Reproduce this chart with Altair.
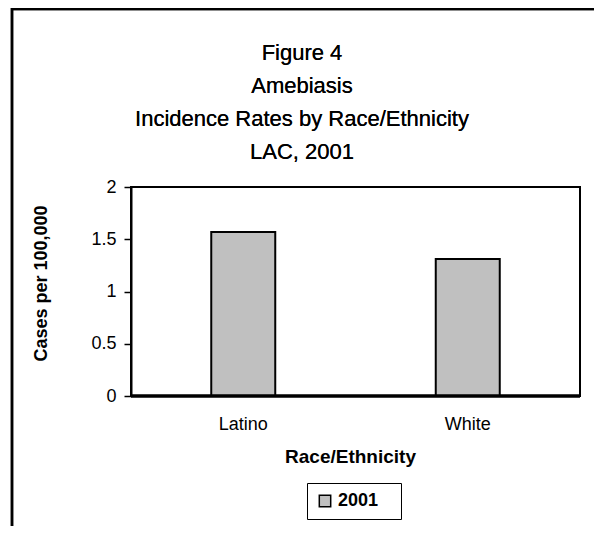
import altair as alt
import pandas as pd

categories = ["Latino", "White"]
rates = [1.57, 1.31]
series = ["2001", "2001"]
title_lines = ["Figure 4", "Amebiasis", "Incidence Rates by Race/Ethnicity", "LAC, 2001"]

df = pd.DataFrame({"race": categories, "rate": rates, "year": series})

FONT = "Liberation Sans"

bars = alt.Chart(df).mark_bar(
    width=64, stroke="black", strokeWidth=2
).encode(
    x=alt.X("race:N", sort=categories,
            scale=alt.Scale(paddingInner=0, paddingOuter=0),
            axis=alt.Axis(title="Race/Ethnicity", labelAngle=0, ticks=False,
                          domain=False, labelPadding=19, titlePadding=14,
                          titleX=219,
                          labelFontSize=18, titleFontSize=19, titleFontWeight="bold",
                          labelColor="black", titleColor="black",
                          labelFont=FONT, titleFont=FONT)),
    y=alt.Y("rate:Q", scale=alt.Scale(domain=[0, 2], nice=False),
            axis=alt.Axis(title="Cases per 100,000", values=[0, 0.5, 1, 1.5, 2],
                          format=".1~f", grid=False, tickSize=7, tickColor="black",
                          tickWidth=1.5, domainColor="black", domainWidth=2,
                          labelPadding=8, labelFontSize=18, titleFontSize=18,
                          titleFontWeight="bold", titlePadding=40, titleY=96,
                          labelColor="black", titleColor="black",
                          labelFont=FONT, titleFont=FONT)),
    color=alt.Color("year:N", scale=alt.Scale(range=["#c0c0c0"]),
                    legend=alt.Legend(title=None, orient="none", legendX=176, legendY=296,
                                      symbolType="square", symbolSize=130,
                                      symbolStrokeColor="black", symbolStrokeWidth=1.5,
                                      symbolFillColor="#c0c0c0",
                                      labelFontSize=18, labelFontWeight="bold", labelFont=FONT,
                                      labelColor="black",
                                      labelExpr="datum.label + '\u2800'",
                                      strokeColor="black", padding=9,
                                      fillColor="white")),
)

baseline = alt.Chart(df).mark_rule(color="black", strokeWidth=3).encode(
    x=alt.value(0), x2=alt.value(449), y=alt.value(209)
)

border_left = alt.Chart(df).mark_rule(color="black", strokeWidth=2.5).encode(
    x=alt.value(-119), y=alt.value(-179), y2=alt.value(360)
)
border_top = alt.Chart(df).mark_rule(color="black", strokeWidth=2.5).encode(
    x=alt.value(-120), x2=alt.value(480), y=alt.value(-178)
)

title = alt.Chart(df).mark_text(
    text=title_lines, fontSize=22, font=FONT, color="black",
    lineHeight=33, align="center", baseline="alphabetic"
).encode(
    x=alt.value(171), y=alt.value(-127)
)

chart = alt.layer(bars, baseline, border_left, border_top, title).properties(
    width=449,
    height=209,
    padding={"left": 123, "top": 179, "right": 14, "bottom": 130},
    autosize=alt.AutoSizeParams(type="none"),
).configure_view(stroke="black", strokeWidth=2)

chart.save("out.html", embed_options={"renderer": "svg", "actions": False})
